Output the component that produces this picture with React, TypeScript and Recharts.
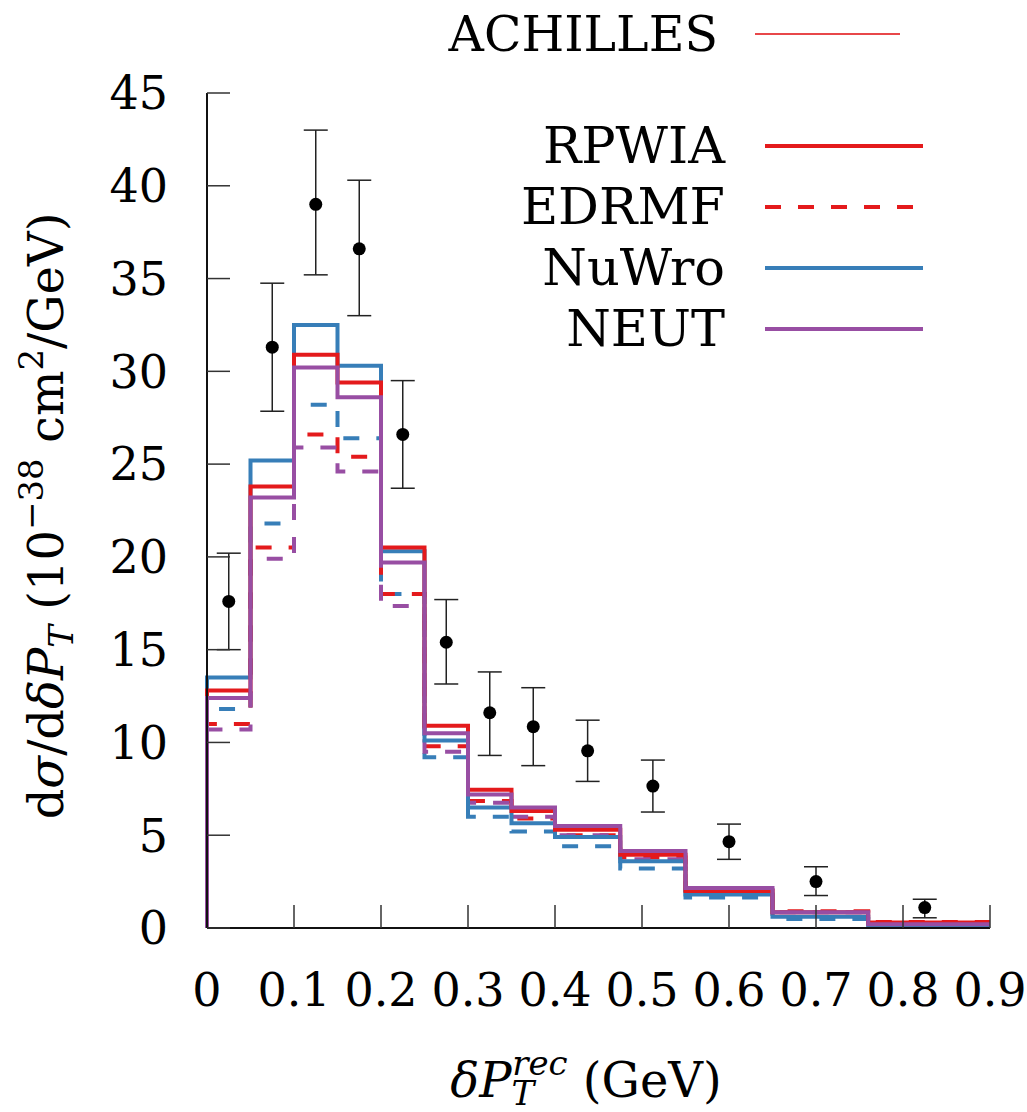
import React from 'react';
import { ComposedChart, Line, Scatter, ErrorBar, XAxis, YAxis } from 'recharts';

// bin edges of the histogram (GeV)
const edges = [0, 0.05, 0.1, 0.15, 0.2, 0.25, 0.3, 0.35, 0.4, 0.475, 0.55, 0.65, 0.76, 0.9];

// predictions per bin (10^-38 cm^2/GeV)
const rpwia = [12.8, 23.8, 30.9, 29.4, 20.5, 10.9, 7.45, 6.3, 5.3, 3.95, 2.0, 0.85, 0.3];
const edrmf = [11.0, 20.5, 26.6, 25.4, 18.0, 9.8, 6.85, 5.9, 5.0, 3.8, 2.05, 0.9, 0.32];
const nuwro = [13.5, 25.2, 32.5, 30.3, 20.3, 10.1, 6.5, 5.65, 4.9, 3.6, 1.8, 0.6, 0.05];
const nuwroDashed = [11.8, 21.8, 28.2, 26.4, 18.0, 9.2, 6.0, 5.2, 4.4, 3.2, 1.65, 0.48, 0.05];
const neut = [12.4, 23.2, 30.2, 28.6, 19.7, 10.5, 7.2, 6.5, 5.5, 4.15, 2.15, 0.85, 0.2];
const neutDashed = [10.7, 19.9, 25.9, 24.6, 17.35, 9.5, 6.75, 6.0, 5.0, 3.7, 2.05, 0.85, 0.2];

// measured data points
const dataX = [0.025, 0.075, 0.125, 0.175, 0.225, 0.275, 0.325, 0.375, 0.4375, 0.5125, 0.6, 0.7, 0.825];
const dataY = [17.6, 31.3, 39.0, 36.6, 26.6, 15.4, 11.6, 10.85, 9.55, 7.65, 4.65, 2.5, 1.1];
const dataLo = [15.0, 27.85, 35.2, 33.0, 23.7, 13.15, 9.3, 8.75, 7.9, 6.25, 3.7, 1.75, 0.55];
const dataHi = [20.2, 34.75, 43.0, 40.3, 29.5, 17.7, 13.8, 12.95, 11.2, 9.05, 5.6, 3.3, 1.55];

const xTicks = [0, 0.1, 0.2, 0.3, 0.4, 0.5, 0.6, 0.7, 0.8, 0.9];
const yTicks = [0, 5, 10, 15, 20, 25, 30, 35, 40, 45];

const RED = '#e41a1c';
const BLUE = '#377eb8';
const PURPLE = '#984ea3';
const FONT = 'DejaVu Serif';

const toSteps = (vals: number[]) => {
  const pts = [{ x: 0, y: 0 }];
  vals.forEach((v, i) => pts.push({ x: edges[i], y: v }));
  pts.push({ x: edges[edges.length - 1], y: vals[vals.length - 1] });
  return pts;
};

const points = dataX.map((x, i) => ({
  x,
  y: dataY[i],
  err: [dataY[i] - dataLo[i], dataHi[i] - dataY[i]],
}));

const series = [
  { key: 'nuwroD', vals: nuwroDashed, color: BLUE, dash: '16 17' },
  { key: 'edrmf', vals: edrmf, color: RED, dash: '16 17' },
  { key: 'neutD', vals: neutDashed, color: PURPLE, dash: '16 17' },
  { key: 'nuwro', vals: nuwro, color: BLUE },
  { key: 'rpwia', vals: rpwia, color: RED },
  { key: 'neut', vals: neut, color: PURPLE },
];

const legend = [
  { name: 'RPWIA', color: RED, dash: undefined as string | undefined },
  { name: 'EDRMF', color: RED, dash: '16 17' },
  { name: 'NuWro', color: BLUE, dash: undefined },
  { name: 'NEUT', color: PURPLE, dash: undefined },
];

const tickStyle = { fontSize: 46, fontFamily: FONT, fill: '#000' };
const tickLine = { stroke: '#333', strokeWidth: 1.5 };
const axisLine = { stroke: '#111', strokeWidth: 2 };

const Dot = (props: any) => <circle cx={props.cx} cy={props.cy} r={6.5} fill="#000" />;

export default function App() {
  return (
    <div style={{ position: 'absolute', left: 0, top: 0, width: 1027, height: 1112, background: '#fff' }}>
      <ComposedChart width={1027} height={1112} margin={{ top: 93, right: 37, bottom: 0, left: 0 }}>
        <XAxis
          xAxisId="b"
          type="number"
          dataKey="x"
          domain={[0, 0.9]}
          ticks={xTicks}
          interval={0}
          height={184}
          tickSize={-23}
          tickMargin={68}
          tick={tickStyle}
          tickLine={tickLine}
          axisLine={axisLine}
          tickFormatter={(v: number) => (v === 0 ? '0' : v.toFixed(1))}
        />
        <XAxis
          xAxisId="t"
          orientation="top"
          type="number"
          dataKey="x"
          domain={[0, 0.9]}
          ticks={xTicks}
          interval={0}
          height={0}
          tickSize={-23}
          tick={false}
          tickLine={tickLine}
          axisLine={axisLine}
        />
        <YAxis
          yAxisId="l"
          type="number"
          dataKey="y"
          domain={[0, 45]}
          ticks={yTicks}
          interval={0}
          width={207}
          tickSize={-23}
          tickMargin={62}
          tick={tickStyle}
          tickLine={tickLine}
          axisLine={axisLine}
        />
        <YAxis
          yAxisId="r"
          orientation="right"
          type="number"
          domain={[0, 45]}
          ticks={yTicks}
          interval={0}
          width={0}
          tickSize={-23}
          tick={false}
          tickLine={tickLine}
          axisLine={axisLine}
        />
        {series.map((s) => (
          <Line
            key={s.key}
            xAxisId="b"
            yAxisId="l"
            data={toSteps(s.vals)}
            dataKey="y"
            type="stepAfter"
            stroke={s.color}
            strokeWidth={4}
            strokeDasharray={s.dash}
            dot={false}
            activeDot={false}
            isAnimationActive={false}
          />
        ))}
        <Scatter xAxisId="b" yAxisId="l" data={points} dataKey="y" shape={Dot} isAnimationActive={false}>
          <ErrorBar dataKey="err" direction="y" width={12} stroke="#222" strokeWidth={1.5} />
        </Scatter>
      </ComposedChart>
      <svg
        width={1027}
        height={1112}
        style={{ position: 'absolute', left: 0, top: 0, pointerEvents: 'none' }}
        fontFamily={FONT}
      >
        <text x={718} y={51} textAnchor="end" fontSize={49}>ACHILLES</text>
        <line x1={755} x2={900} y1={34} y2={34} stroke="#e8474a" strokeWidth={2} />
        {legend.map((l, i) => (
          <g key={l.name}>
            <text x={725} y={163 + i * 61} textAnchor="end" fontSize={51}>{l.name}</text>
            <line x1={765} x2={923} y1={146 + i * 61} y2={146 + i * 61} stroke={l.color} strokeWidth={4} strokeDasharray={l.dash} />
          </g>
        ))}
        <text transform="translate(63,516) rotate(-90)" textAnchor="middle" fontSize={48}>
          <tspan>d</tspan>
          <tspan fontStyle="italic">σ</tspan>
          <tspan>/d</tspan>
          <tspan fontStyle="italic">δP</tspan>
          <tspan fontStyle="italic" fontSize={34} dy={10}>T</tspan>
          <tspan dy={-10}> (10</tspan>
          <tspan fontSize={34} dy={-20}>−38</tspan>
          <tspan dy={20}> cm</tspan>
          <tspan fontSize={34} dy={-20}>2</tspan>
          <tspan dy={20}>/GeV)</tspan>
        </text>
        <text x={586} y={1097} textAnchor="middle" fontSize={48}>
          <tspan fontStyle="italic">δP</tspan>
          <tspan fontStyle="italic" fontSize={34} dy={8}>T</tspan>
          <tspan fontStyle="italic" fontSize={34} dx={-22} dy={-30}>rec</tspan>
          <tspan dy={22}> (GeV)</tspan>
        </text>
      </svg>
    </div>
  );
}
